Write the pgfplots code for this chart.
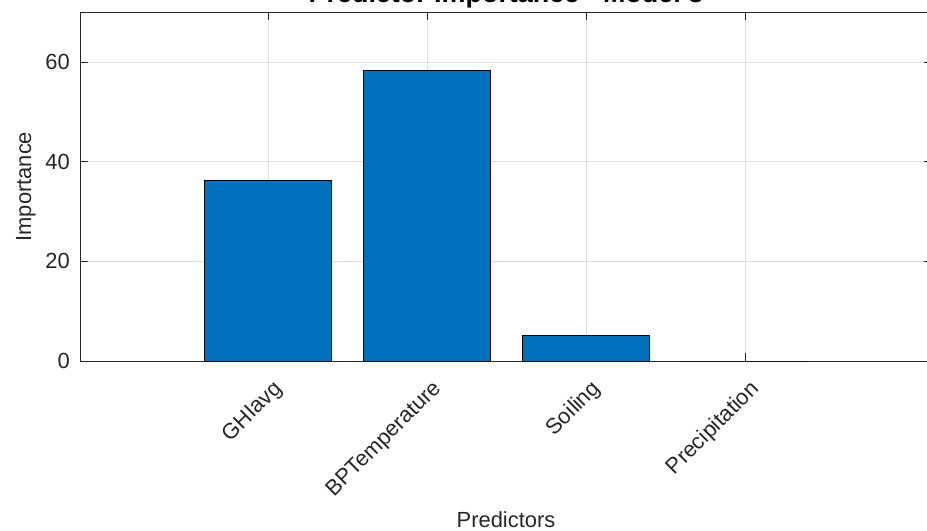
\documentclass[border=0pt]{standalone}
\usepackage{fontspec}
\setmainfont{Liberation Sans}
\usepackage{pgfplots}
\pgfplotsset{compat=1.18}
\definecolor{barblue}{RGB}{0,114,189}
\definecolor{axisgray}{RGB}{38,38,38}
\definecolor{gridgray}{RGB}{223,223,223}
\begin{document}
\begin{tikzpicture}
\begin{axis}[
  at={(0,0)}, anchor=south west,
  scale only axis, width=852bp, height=348.7bp,
  xmin=-0.182, xmax=5.176, ymin=0, ymax=70,
  xtick={1,2,3,4},
  xticklabels={GHIavg,BPTemperature,Soiling,Precipitation},
  ytick={0,20,40,60},
  grid=major,
  major grid style={gridgray, line width=0.8bp},
  tick align=inside, major tick length=8bp,
  axis line style={axisgray, line width=0.9bp},
  every tick/.style={axisgray, line width=0.9bp},
  /pgf/number format/assume math mode=true,
  every tick label/.append style={text=axisgray, font=\fontsize{22}{26}\selectfont},
  xticklabel style={inner sep=1bp, xshift=12bp, yshift=-24bp, rotate=45, anchor=east},
  yticklabel style={inner sep=0bp, anchor=east, xshift=-10bp},
  xlabel={Predictors},
  xlabel style={at={(axis description cs:0.5,-0.4789)}, anchor=base,
    text=axisgray, font=\fontsize{22}{26}\selectfont},
  ylabel={Importance},
  ylabel style={at={(axis description cs:-0.0634,0.5)}, anchor=center,
    text=axisgray, font=\fontsize{22}{26}\selectfont},
  title={Predictor Importance - Model 3},
  title style={at={(axis description cs:0.5,1.0123)}, anchor=base,
    text=black, font=\fontsize{27}{31}\selectfont\bfseries},
]
% predictor importance estimates
\addplot[ybar, bar width=0.8, fill=barblue, draw=black, line width=1bp]
  coordinates {(1,36.3) (2,58.3) (3,5.1) (4,0)};
\end{axis}
\pgfresetboundingbox
\path[use as bounding box] (-80bp,-170bp) rectangle (847bp,361bp);
\end{tikzpicture}
\end{document}
